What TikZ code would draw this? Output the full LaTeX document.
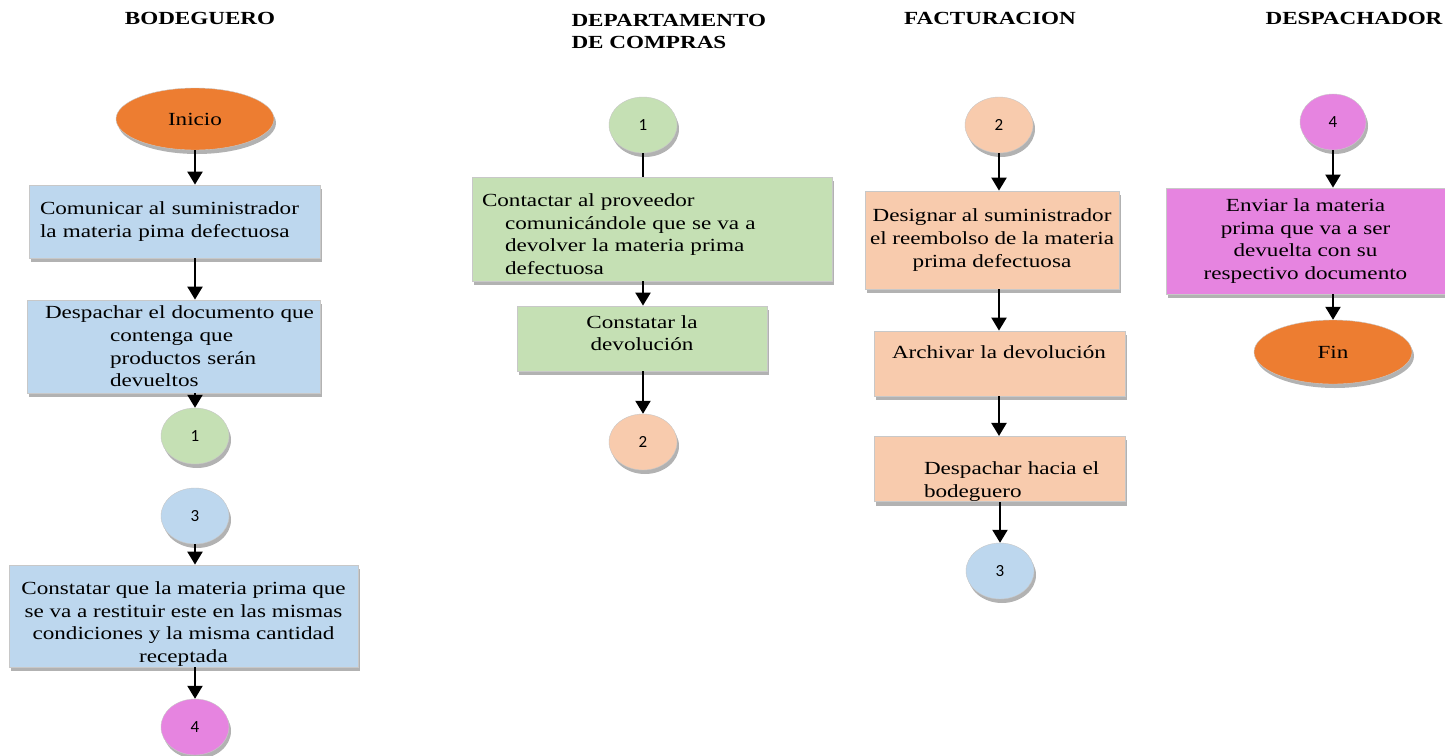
\documentclass[tikz,border=0pt]{standalone}
\usepackage{fontspec}
\setmainfont{Liberation Serif}[FakeStretch=1.25]
\newfontfamily\numfont{Carlito}
\usetikzlibrary{shapes.geometric,shadows,arrows.meta}
\definecolor{naranja}{RGB}{237,125,49}
\definecolor{azul}{RGB}{189,215,238}
\definecolor{verde}{RGB}{197,224,180}
\definecolor{durazno}{RGB}{248,203,173}
\definecolor{lila}{RGB}{230,132,224}
\definecolor{borde}{RGB}{200,200,200}

\begin{document}
\begin{tikzpicture}[x=1pt,y=-1pt,
    font=\fontsize{18.5}{22.7}\selectfont,
    sombra/.style={drop shadow={shadow xshift=2pt,shadow yshift=-4pt,opacity=.3,fill=black}},
    proc/.style={rectangle,draw=borde,line width=.8pt,sombra,inner ysep=2pt},
    term/.style={ellipse,draw=borde,fill=naranja,sombra,minimum width=158pt,minimum height=62pt},
    conec/.style={ellipse,draw=borde,sombra,minimum width=68pt,minimum height=56pt,inner sep=0pt,
        font=\numfont\fontsize{17}{20}\selectfont},
    flujo/.style={line width=2.2pt,-{Triangle[width=15pt,length=13pt]}},
    titulo/.style={font=\fontsize{18.5}{22}\selectfont\bfseries}]

    \useasboundingbox (0,0) rectangle (1445,755);

    % titulos
    \node[titulo] (tbod) at (200,18) {BODEGUERO};
    \node[titulo,align=left,anchor=west] (tdep) at (568,31) {DEPARTAMENTO\\DE COMPRAS};
    \node[titulo] (tfac) at (990,18) {FACTURACION};
    \node[titulo] (tdes) at (1354,18) {DESPACHADOR};

    % bodeguero
    \node[term] (ini) at (195,119) {Inicio};
    \node[proc,fill=azul,minimum width=291pt,minimum height=73pt,text width=269pt,inner xsep=11pt,align=left]
        (b1) at (174.5,221.5) {Comunicar al suministrador\\la materia pima defectuosa};
    \node[proc,fill=azul,minimum width=293pt,minimum height=93pt,text width=257pt,inner xsep=18pt,align=left]
        (b2) at (173.5,346.5) {\mbox{Despachar el documento que}\\\hspace*{65pt}contenga que\\
        \hspace*{65pt}productos serán\\\hspace*{65pt}devueltos};
    \node[conec,fill=verde] (c1) at (195,436) {1};
    \node[conec,fill=azul] (c3) at (195,516) {3};
    \node[proc,fill=azul,minimum width=349pt,minimum height=102pt,inner ysep=0pt,align=center]
        (b3) at (183.5,616) {\rule{0pt}{29pt}Constatar que la materia prima que\\se va a restituir este en las mismas\\
        condiciones y la misma cantidad\\receptada};
    \node[conec,fill=lila] (c4) at (195,727) {4};

    % departamento de compras
    \node[conec,fill=verde] (d1) at (643,125) {1};
    \node[proc,fill=verde,minimum width=360pt,minimum height=104pt,text width=340pt,inner xsep=10pt,align=left]
        (b4) at (652,229) {\rule{0pt}{23pt}Contactar al proveedor\\\hspace*{23pt}comunicándole que se va a\\
        \hspace*{23pt}devolver la materia prima\\\hspace*{23pt}defectuosa};
    \node[proc,fill=verde,minimum width=250pt,minimum height=65pt,align=center]
        (b5) at (642,338.5) {Constatar la\\devolución\\[-12pt]\mbox{}};
    \node[conec,fill=durazno] (d2) at (643,442) {2};

    % facturacion
    \node[conec,fill=durazno] (e2) at (999,125) {2};
    \node[proc,fill=durazno,minimum width=254pt,minimum height=98pt,align=center]
        (b6) at (992,240) {Designar al suministrador\\el reembolso de la materia\\prima defectuosa};
    \node[proc,fill=durazno,minimum width=251pt,minimum height=65pt,text width=215pt,inner xsep=18pt,align=left]
        (b7) at (999.5,363.5) {Archivar la devolución\\\mbox{}};
    \node[proc,fill=durazno,minimum width=251pt,minimum height=64pt,text width=191pt,inner xsep=30pt,inner ysep=0pt,align=left]
        (b8) at (999.5,469) {\strut\\\hspace*{20pt}\mbox{Despachar hacia el}\\\hspace*{20pt}bodeguero};
    \node[conec,fill=azul] (e3) at (1000,571) {3};

    % despachador
    \node[conec,fill=lila,minimum width=66pt] (f4) at (1333,122) {4};
    \node[proc,fill=lila,minimum width=279pt,minimum height=106pt,align=center]
        (b9) at (1305.5,241) {Enviar la materia\\prima que va a ser\\devuelta con su\\respectivo documento};
    \node[term,minimum height=64pt] (fin) at (1333,352) {Fin};

    % flechas
    \draw[flujo] (ini) -- (ini |- b1.north);
    \draw[flujo] (b1.south -| ini) -- (b2.north -| ini);
    \draw[flujo] (b2.south -| c1) -- (c1);
    \draw[flujo] (c3) -- (b3.north -| c3);
    \draw[flujo] (b3.south -| c4) -- (c4);
    \draw[line width=2.2pt] (d1) -- (d1 |- b4.north);
    \draw[flujo] (b4.south -| d1) -- (b5.north -| d1);
    \draw[flujo] (b5.south -| d2) -- (d2);
    \draw[flujo] (e2) -- (e2 |- b6.north);
    \draw[flujo] (b6.south -| e2) -- (b7.north -| e2);
    \draw[flujo] (b7.south -| e2) -- (b8.north -| e2);
    \draw[flujo] (b8.south -| e3) -- (e3);
    \draw[flujo] (f4) -- (f4 |- b9.north);
    \draw[flujo] (b9.south -| fin) -- (fin);
\end{tikzpicture}
\end{document}
